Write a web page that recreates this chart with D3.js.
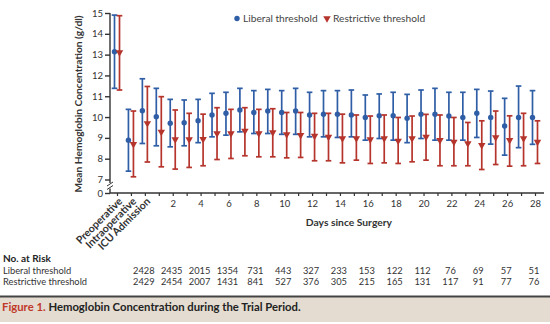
<!DOCTYPE html>
<html>
<head>
<meta charset="utf-8">
<script src="https://cdn.jsdelivr.net/npm/d3@7"></script>
<style>
  body { margin: 0; background: #ffffff; }
  text { font-family: Lato, "Open Sans", sans-serif; }
</style>
</head>
<body>
<div id="chart"></div>
<script>
// categories along the x axis (three peri-operative points, then days 1-28)
var categories = ["Preoperative", "Intraoperative", "ICU Admission"];
for (var d = 1; d <= 28; d++) categories.push(String(d));

var dayTickLabels = ["2", "4", "6", "8", "10", "12", "14", "16", "18", "20", "22", "24", "26", "28"];
var yTickValues = [0, 7, 8, 9, 10, 11, 12, 13, 14, 15];

// mean and error bar ends (g/dl)
var liberalMean = [13.14, 8.89, 10.30, 10.02, 9.70, 9.73, 9.82, 10.10, 10.18, 10.34, 10.22, 10.29, 10.22, 10.29, 10.10, 10.14, 10.14, 10.10, 9.98, 10.06, 10.06, 9.94, 10.14, 10.14, 10.05, 9.98, 10.18, 9.98, 9.57, 9.98, 9.98];
var liberalUpper = [14.90, 10.37, 11.84, 11.38, 10.85, 10.82, 10.85, 11.14, 11.19, 11.38, 11.27, 11.33, 11.27, 11.38, 11.19, 11.27, 11.27, 11.30, 11.06, 11.11, 11.19, 11.09, 11.30, 11.38, 11.19, 11.19, 11.33, 11.25, 10.90, 11.49, 11.27];
var liberalLower = [11.38, 7.40, 8.73, 8.62, 8.57, 8.62, 8.77, 9.05, 9.13, 9.29, 9.21, 9.21, 9.17, 9.17, 9.05, 9.05, 9.02, 9.05, 8.89, 8.97, 8.89, 8.77, 8.97, 8.89, 8.89, 8.89, 9.02, 8.70, 8.17, 8.53, 8.69];

var restrictiveMean = [13.11, 8.70, 9.70, 9.29, 8.93, 8.93, 8.94, 9.21, 9.21, 9.33, 9.21, 9.26, 9.17, 9.13, 9.09, 9.05, 8.97, 8.97, 8.93, 8.97, 8.86, 8.97, 9.05, 8.89, 8.81, 8.73, 8.65, 9.02, 8.89, 8.97, 8.81];
var restrictiveUpper = [14.87, 10.29, 11.47, 10.98, 10.34, 10.18, 10.14, 10.45, 10.37, 10.45, 10.37, 10.40, 10.22, 10.22, 10.18, 10.18, 10.14, 10.10, 10.05, 10.10, 9.98, 10.05, 10.13, 10.10, 9.98, 9.74, 9.82, 10.29, 10.06, 10.18, 9.82];
var restrictiveLower = [11.30, 7.13, 7.84, 7.61, 7.50, 7.58, 7.66, 7.96, 8.01, 8.14, 8.09, 8.09, 8.04, 8.06, 7.90, 7.90, 7.80, 7.93, 7.77, 7.80, 7.77, 7.85, 7.93, 7.66, 7.66, 7.66, 7.48, 7.72, 7.64, 7.66, 7.77];

// no. at risk table
var riskDays = ["ICU Admission", "2", "4", "6", "8", "10", "12", "14", "16", "18", "20", "22", "24", "26", "28"];
var riskLiberal = [2428, 2435, 2015, 1354, 731, 443, 327, 233, 153, 122, 112, 76, 69, 57, 51];
var riskRestrictive = [2429, 2454, 2007, 1431, 841, 527, 376, 305, 215, 165, 131, 117, 91, 77, 76];

var width = 550,
    height = 324,
    blue = "#2f5ea6",
    red = "#b5342c",
    axisColor = "#333333",
    textColor = "#333333";

var svg = d3.select("#chart")
    .append("svg")
    .attr("width", width)
    .attr("height", height);

var axisX = 110,
    axisY = 193;

var x = d3.scalePoint()
    .domain(categories)
    .range([117, 535]);

// broken y axis: 0 sits just under the 7 with a gap between
var y = d3.scaleLinear()
    .domain([0, 7, 15])
    .range([axisY, 179.5, 13]);

// y axis line with break marks
svg.append("line")
    .attr("x1", axisX).attr("x2", axisX)
    .attr("y1", y(15)).attr("y2", 183)
    .style("stroke", axisColor).style("stroke-width", 1.4);
svg.append("line")
    .attr("x1", axisX).attr("x2", axisX)
    .attr("y1", 188.5).attr("y2", axisY)
    .style("stroke", axisColor).style("stroke-width", 1.4);
[184, 187.5].forEach(function (by) {
    svg.append("line")
        .attr("x1", axisX - 3).attr("x2", axisX + 3)
        .attr("y1", by + 2).attr("y2", by - 2)
        .style("stroke", axisColor).style("stroke-width", 1);
});

var yAxis = svg.append("g")
    .attr("transform", "translate(" + axisX + ",0)")
    .call(d3.axisLeft(y).tickValues(yTickValues).tickSize(5).tickPadding(2).tickFormat(d3.format("d")));
yAxis.select(".domain").remove();
yAxis.selectAll("line").style("stroke", axisColor).style("stroke-width", 1.4);
yAxis.selectAll("text")
    .style("font-size", "9.5px")
    .style("fill", textColor)
    .style("font-family", "Lato, sans-serif");

svg.append("text")
    .attr("transform", "translate(82,104) rotate(-90)")
    .attr("text-anchor", "middle")
    .style("font-size", "10.2px")
    .style("font-weight", "bold")
    .style("fill", textColor)
    .text("Mean Hemoglobin Concentration (g/dl)");

// x axis
svg.append("line")
    .attr("x1", axisX).attr("x2", 544)
    .attr("y1", axisY).attr("y2", axisY)
    .style("stroke", axisColor).style("stroke-width", 1.4);

var xAxis = svg.append("g")
    .attr("transform", "translate(0," + axisY + ")")
    .call(d3.axisBottom(x).tickSize(3).tickPadding(4)
        .tickFormat(function (c) { return dayTickLabels.indexOf(c) >= 0 ? c : ""; }));
xAxis.select(".domain").remove();
xAxis.selectAll("line").style("stroke", axisColor).style("stroke-width", 1.2);
xAxis.selectAll("text")
    .style("font-size", "9.5px")
    .style("fill", textColor)
    .style("font-family", "Lato, sans-serif");

// slanted labels for the first three categories
categories.slice(0, 3).forEach(function (c) {
    svg.append("text")
        .attr("transform", "translate(" + (x(c) + 6) + "," + (axisY + 9) + ") rotate(-45)")
        .attr("text-anchor", "end")
        .style("font-size", "10.5px")
        .style("font-weight", "bold")
        .style("fill", textColor)
        .text(c);
});

svg.append("text")
    .attr("x", x("14") + 9)
    .attr("y", 226)
    .attr("text-anchor", "middle")
    .style("font-size", "10.3px")
    .style("font-weight", "bold")
    .style("fill", textColor)
    .text("Days since Surgery");

// error bars and markers
var series = [
    { mean: liberalMean, upper: liberalUpper, lower: liberalLower, color: blue, dx: -2.5, shape: "circle" },
    { mean: restrictiveMean, upper: restrictiveUpper, lower: restrictiveLower, color: red, dx: 2.5, shape: "triangle" }
];

series.forEach(function (s) {
    var g = svg.append("g");
    categories.forEach(function (c, i) {
        var cx = x(c) + s.dx;
        g.append("line")
            .attr("x1", cx).attr("x2", cx)
            .attr("y1", y(s.upper[i])).attr("y2", y(s.lower[i]))
            .style("stroke", s.color).style("stroke-width", 1.7);
        [s.upper[i], s.lower[i]].forEach(function (v) {
            g.append("line")
                .attr("x1", cx - 2.8).attr("x2", cx + 2.8)
                .attr("y1", y(v)).attr("y2", y(v))
                .style("stroke", s.color).style("stroke-width", 1.7);
        });
        if (s.shape == "circle") {
            g.append("circle")
                .attr("cx", cx).attr("cy", y(s.mean[i]))
                .attr("r", 2.7)
                .style("fill", s.color);
        } else {
            g.append("path")
                .attr("transform", "translate(" + cx + "," + y(s.mean[i]) + ") rotate(180)")
                .attr("d", d3.symbol().type(d3.symbolTriangle).size(24))
                .style("fill", s.color);
        }
    });
});

// legend
svg.append("circle")
    .attr("cx", 237).attr("cy", 18.5).attr("r", 2.7)
    .style("fill", blue);
svg.append("text")
    .attr("x", 243).attr("y", 22)
    .style("font-size", "10.2px")
    .style("fill", "#444444")
    .text("Liberal threshold");
svg.append("path")
    .attr("transform", "translate(327,18.5) rotate(180)")
    .attr("d", d3.symbol().type(d3.symbolTriangle).size(24))
    .style("fill", red);
svg.append("text")
    .attr("x", 333).attr("y", 22)
    .style("font-size", "10.2px")
    .style("fill", "#444444")
    .text("Restrictive threshold");

// no. at risk
svg.append("text")
    .attr("x", 3).attr("y", 261.5)
    .style("font-size", "10px")
    .style("font-weight", "bold")
    .style("fill", "#222222")
    .text("No. at Risk");

[["Liberal threshold", riskLiberal, 273.5], ["Restrictive threshold", riskRestrictive, 285]].forEach(function (row) {
    svg.append("text")
        .attr("x", 3).attr("y", row[2])
        .style("font-size", "9.3px")
        .style("fill", textColor)
        .text(row[0]);
    riskDays.forEach(function (c, i) {
        svg.append("text")
            .attr("x", x(c) - 1)
            .attr("y", row[2])
            .attr("text-anchor", "middle")
            .style("font-size", "9.3px")
            .style("fill", textColor)
            .text(row[1][i]);
    });
});

// caption band
svg.append("rect")
    .attr("x", 0).attr("y", 297)
    .attr("width", width).attr("height", 25)
    .style("fill", "#e4dcd1");
svg.append("line")
    .attr("x1", 0).attr("x2", width)
    .attr("y1", 296.5).attr("y2", 296.5)
    .style("stroke", "#444444").style("stroke-width", 2);

var caption = svg.append("text")
    .attr("x", 2).attr("y", 310.5)
    .style("font-size", "11.3px")
    .style("font-weight", "bold");
caption.append("tspan").style("fill", "#c0392b").text("Figure 1. ");
caption.append("tspan").style("fill", "#222222").text("Hemoglobin Concentration during the Trial Period.");
</script>
</body>
</html>
